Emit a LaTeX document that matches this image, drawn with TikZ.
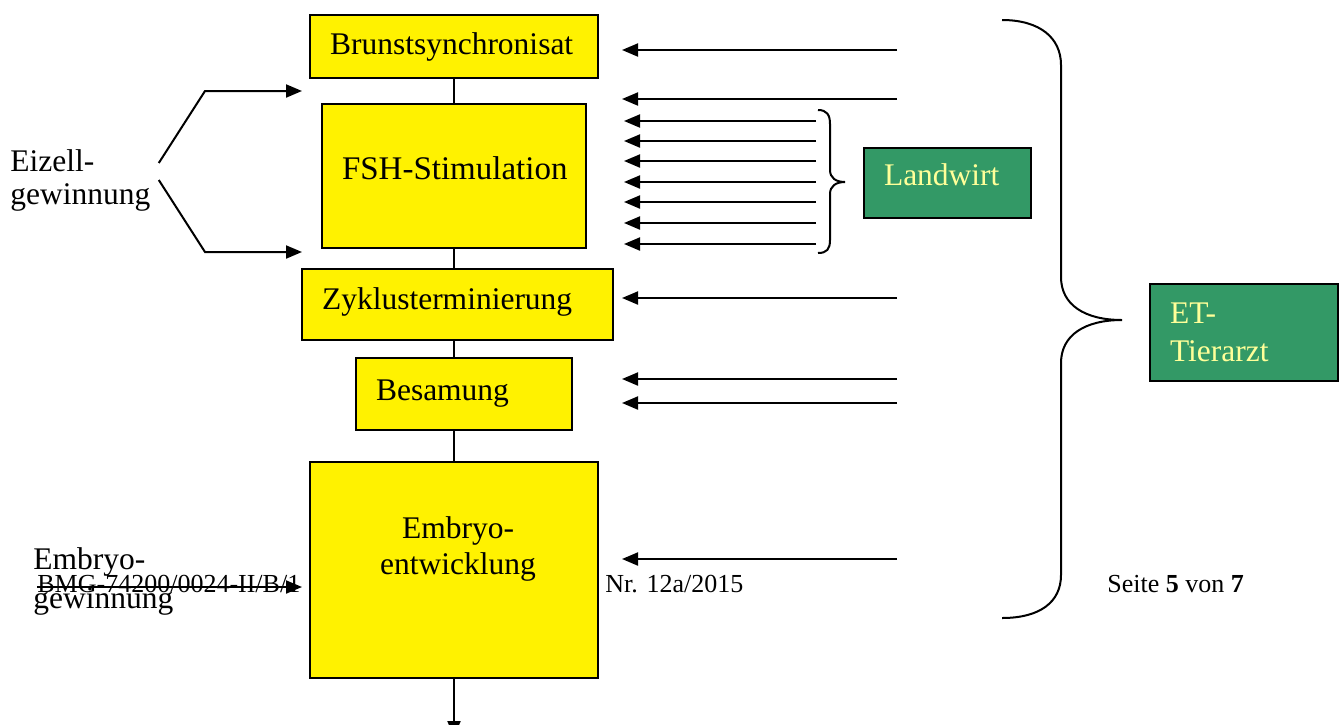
\documentclass[tikz,border=0pt]{standalone}
\usepackage{fontspec}
\setmainfont{Liberation Serif}
\usepackage{xcolor}
\usepackage{tikz}
\usetikzlibrary{positioning}
\usetikzlibrary{arrows.meta}
\definecolor{etgreen}{HTML}{339966}
\definecolor{etlight}{HTML}{FFFF99}
\tikzset{
  stepbox/.style={
    draw, line width=1pt, fill=yellow, anchor=north west, align=left,
    inner xsep=10pt, inner ysep=0pt, font=\fontsize{15.75}{19}\selectfont,
  },
  rolebox/.style={
    draw, line width=1pt, fill=etgreen, text=etlight, anchor=north west,
    align=left, inner xsep=10pt, inner ysep=0pt,
    font=\fontsize{15.75}{19}\selectfont,
  },
  pfeil/.style={line width=1pt, -{Triangle[length=8pt,width=6.5pt]}},
  footer/.style={anchor=base west, inner sep=0pt, font=\fontsize{13}{15}\selectfont},
}

\begin{document}
\begin{tikzpicture}[x=0.5pt,y=-0.5pt]
  \useasboundingbox (0,0) rectangle (1343,724);

  % Footer line of the page
  \node[footer] (aktenzahl) at (37,592) {BMG-74200/0024-II/B/1};
  \node[footer] (nummer) at (605,592) {Nr. 12a/2015};
  \node[footer] (seite) at (1107,592) {Seite \textbf{5} von \textbf{7}};

  % Define nodes
  \node[stepbox, text width=124pt, minimum height=31.5pt] (brunst) at (309,14) {Brunstsynchronisat};
  \node[stepbox, text width=112pt, minimum height=72pt, text depth=8pt, font=\fontsize{16.5}{20}\selectfont] (fsh) at (321,103) {\mbox{FSH-Stimulation}};
  \node[stepbox, text width=135.5pt, minimum height=35.5pt, text depth=6pt] (zyklus) at (301,268) {Zyklusterminierung};
  \node[stepbox, text width=88pt, minimum height=36pt] (besamung) at (355,357) {Besamung};
  \node[stepbox, text width=124pt, minimum height=108pt] (embryo) at (309,461) {};
  \node[align=center, font=\fontsize{15.75}{18}\selectfont] (embryotext) at (458,549) {Embryo-\\entwicklung};

  \node[rolebox, text width=63.5pt, minimum height=35pt, text depth=8.5pt] (landwirt) at (863,147) {Landwirt};
  \node[rolebox, text width=74pt, minimum height=48.5pt] (tierarzt) at (1149,283) {ET-\\Tierarzt};

  \node[anchor=west, align=left, inner sep=0pt, font=\fontsize{15.75}{16.5}\selectfont] (eizell) at (10,180) {Eizell-\\gewinnung};
  \node[anchor=west, align=left, inner sep=0pt, font=\fontsize{15.75}{19.5}\selectfont] (embryogew) at (33,581) {Embryo-\\gewinnung};

  % Connect nodes
  \draw[line width=1pt] (brunst.south) -- (brunst.south |- fsh.north)
    (fsh.south) -- (fsh.south |- zyklus.north)
    (fsh.south |- zyklus.south) -- (fsh.south |- besamung.north)
    (fsh.south |- besamung.south) -- (embryo.north);
  \draw[pfeil] (embryo.south) -- ++(0,58);

  \coordinate (knickoben) at (205,91);
  \coordinate (knickunten) at (205,252);
  \draw[pfeil] ([xshift=4pt,yshift=8.5pt]eizell.east) -- (knickoben) -- (knickoben -| 302,0);
  \draw[pfeil] ([xshift=4pt,yshift=0pt]eizell.east) -- (knickunten) -- (knickunten -| 302,0);

  \coordinate (gewinnung) at (37,587);
  \draw[pfeil, shorten >=3.5pt] (gewinnung) -- (gewinnung -| embryo.west);

  \foreach \y [count=\i] in {50,99,298,379,403,559} {
    \coordinate (rs\i) at (897,\y);
    \coordinate (re\i) at (622,\y);
    \draw[pfeil] (rs\i) -- (re\i);
  }
  \foreach \y [count=\i] in {121,141,161,182,202,223,244} {
    \coordinate (ls\i) at (816,\y);
    \coordinate (le\i) at (624,\y);
    \draw[pfeil] (ls\i) -- (le\i);
  }

  % Braces
  \draw[line width=1pt] (818,110) .. controls (827,110) and (830,115) .. (830,124)
    -- (830,170) .. controls (830,178) and (836,182) .. (845,182)
    .. controls (836,182) and (830,186) .. (830,194)
    -- (830,240) .. controls (830,249) and (827,253) .. (818,253);
  \draw[line width=1pt] (1002,20) .. controls (1040,20) and (1061,38) .. (1061,65)
    -- (1061,277) .. controls (1061,305) and (1085,320) .. (1122,320)
    .. controls (1085,320) and (1061,335) .. (1061,363)
    -- (1061,575) .. controls (1061,602) and (1040,618) .. (1002,618);

\end{tikzpicture}
\end{document}
